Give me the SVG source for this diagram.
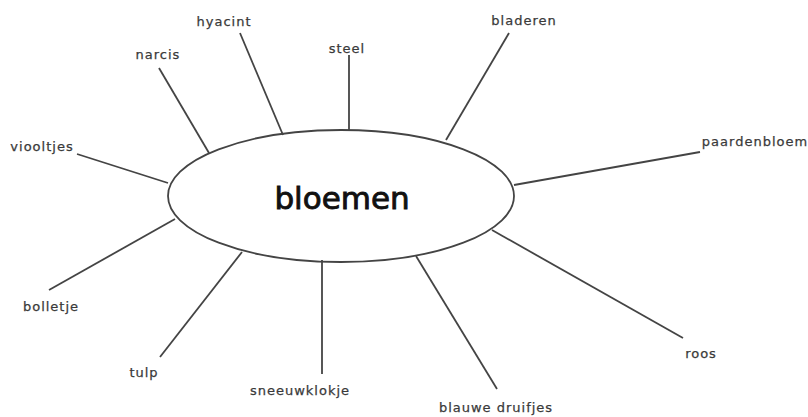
<svg xmlns="http://www.w3.org/2000/svg" width="808" height="417" viewBox="0 0 808 417">
<style>
.lbl{font-family:"DejaVu Sans",sans-serif;font-size:13px;letter-spacing:1px;fill:#3a3a3a;stroke:#3a3a3a;stroke-width:0.25}
.title{font-family:"DejaVu Sans",sans-serif;font-size:31px;fill:#111;stroke:#111;stroke-width:0.9}
.ln{stroke:#444;stroke-width:1.8;fill:none}
</style>
<rect width="808" height="417" fill="#fff"/>
<g id="connectors">
<line class="ln" x1="77" y1="154" x2="168" y2="183"/>
<line class="ln" x1="159" y1="68" x2="209" y2="153"/>
<line class="ln" x1="240" y1="33" x2="283" y2="135"/>
<line class="ln" x1="349" y1="55" x2="349" y2="130"/>
<line class="ln" x1="509" y1="33" x2="446" y2="140"/>
<line class="ln" x1="700" y1="152" x2="514" y2="185"/>
<line class="ln" x1="49" y1="290" x2="175" y2="219"/>
<line class="ln" x1="160" y1="357" x2="242" y2="252"/>
<line class="ln" x1="322" y1="260" x2="322" y2="374"/>
<line class="ln" x1="416" y1="256" x2="497" y2="389"/>
<line class="ln" x1="492" y1="230" x2="683" y2="338"/>
</g>
<g id="bloemen">
<ellipse cx="341" cy="196" rx="173" ry="66" fill="#fff" class="ln"/>
<text class="title" x="342" y="209" text-anchor="middle">bloemen</text>
</g>
<g id="viooltjes"><text class="lbl" x="42" y="151" text-anchor="middle">viooltjes</text></g>
<g id="narcis"><text class="lbl" x="158" y="59" text-anchor="middle">narcis</text></g>
<g id="hyacint"><text class="lbl" x="224" y="26" text-anchor="middle">hyacint</text></g>
<g id="steel"><text class="lbl" x="347" y="53" text-anchor="middle">steel</text></g>
<g id="bladeren"><text class="lbl" x="524" y="25" text-anchor="middle">bladeren</text></g>
<g id="paardenbloem"><text class="lbl" x="755" y="146" text-anchor="middle">paardenbloem</text></g>
<g id="bolletje"><text class="lbl" x="51" y="311" text-anchor="middle">bolletje</text></g>
<g id="tulp"><text class="lbl" x="144" y="377" text-anchor="middle">tulp</text></g>
<g id="sneeuwklokje"><text class="lbl" x="300" y="395" text-anchor="middle">sneeuwklokje</text></g>
<g id="blauwe-druifjes"><text class="lbl" x="496" y="412" text-anchor="middle">blauwe druifjes</text></g>
<g id="roos"><text class="lbl" x="701" y="358" text-anchor="middle">roos</text></g>
</svg>
